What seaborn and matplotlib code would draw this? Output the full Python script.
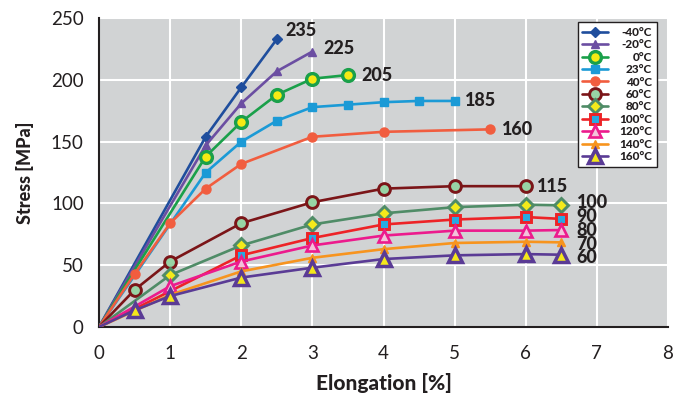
import numpy as np
import pandas as pd
import matplotlib
matplotlib.use("Agg")
import matplotlib.pyplot as plt
import seaborn as sns

# ---- data ----
temps = ["-40°C", "-20°C", "0°C", "23°C", "40°C", "60°C", "80°C", "100°C", "120°C", "140°C", "160°C"]
x_m40 = [0, 1.5, 2.0, 2.5]
y_m40 = [0, 154, 194, 233]
x_m20 = [0, 1.5, 2.0, 2.5, 3.0]
y_m20 = [0, 147, 181, 207, 223]
x_0 = [0, 1.5, 2.0, 2.5, 3.0, 3.5]
y_0 = [0, 138, 166, 188, 201, 204]
x_23 = [0, 1.5, 2.0, 2.5, 3.0, 3.5, 4.0, 4.5, 5.0]
y_23 = [0, 125, 150, 167, 178, 180, 182, 183, 183]
x_40 = [0, 0.5, 1.0, 1.5, 2.0, 3.0, 4.0, 5.5]
y_40 = [0, 43, 84, 112, 132, 154, 158, 160]
x_60 = [0, 0.5, 1.0, 2.0, 3.0, 4.0, 5.0, 6.0]
y_60 = [0, 30, 53, 84, 101, 112, 114, 114]
x_80 = [0, 1.0, 2.0, 3.0, 4.0, 5.0, 6.0, 6.5]
y_80 = [0, 42, 66, 83, 92, 97, 99, 98.5]
x_100 = [0, 2.0, 3.0, 4.0, 5.0, 6.0, 6.5]
y_100 = [0, 58, 72, 83, 87, 89, 87.5]
x_120 = [0, 1.0, 2.0, 3.0, 4.0, 5.0, 6.0, 6.5]
y_120 = [0, 33, 53, 66, 74, 78, 78, 78.5]
x_140 = [0, 1.0, 2.0, 3.0, 4.0, 5.0, 6.0, 6.5]
y_140 = [0, 26, 45, 56, 63, 68, 69, 68.5]
x_160 = [0, 0.5, 1.0, 2.0, 3.0, 4.0, 5.0, 6.0, 6.5]
y_160 = [0, 13.5, 25, 40, 48, 55, 58, 59, 58.5]
end_labels = ["235", "225", "205", "185", "160", "115", "100", "90", "80", "70", "60"]
x_ticks = [0, 1, 2, 3, 4, 5, 6, 7, 8]
y_ticks = [0, 50, 100, 150, 200, 250]

xs = [x_m40, x_m20, x_0, x_23, x_40, x_60, x_80, x_100, x_120, x_140, x_160]
ys = [y_m40, y_m20, y_0, y_23, y_40, y_60, y_80, y_100, y_120, y_140, y_160]

# ---- styles ----
styles = [
    dict(color="#1f4e9d", marker="D", ms=5, mfc="#1f4e9d", mec="#1f4e9d", mew=1),
    dict(color="#6b4ea2", marker="^", ms=6, mfc="#6b4ea2", mec="#6b4ea2", mew=1),
    dict(color="#1aa04a", marker="o", ms=8.5, mfc="#f5ea14", mec="#1aa04a", mew=2.4),
    dict(color="#1b9ad6", marker="s", ms=6, mfc="#1b9ad6", mec="#1b9ad6", mew=1),
    dict(color="#f15d3f", marker="o", ms=6.5, mfc="#f15d3f", mec="#f15d3f", mew=1),
    dict(color="#7b1518", marker="o", ms=8.5, mfc="#98d4a5", mec="#7b1518", mew=2.1),
    dict(color="#4f8c67", marker="D", ms=7, mfc="#f4ea1b", mec="#4f8c67", mew=2.1),
    dict(color="#ed2327", marker="s", ms=7.5, mfc="#27aae1", mec="#ed2327", mew=2.1),
    dict(color="#ec1b8d", marker="^", ms=8.5, mfc="#f3c2da", mec="#ec1b8d", mew=1.9),
    dict(color="#f7941e", marker="^", ms=6, mfc="#f7941e", mec="#f7941e", mew=1),
    dict(color="#5a3b95", marker="^", ms=9.5, mfc="#f4e71b", mec="#5a3b95", mew=2.5),
]
label_offsets = [(9, 9), (11, 3), (13, 0), (10, 0), (12, 0), (11, 0),
                 (16, 3), (15, 2), (15, 0), (15, -2), (15, -3)]

sns.set_style("white")
plt.rcParams["font.family"] = ["Lato", "DejaVu Sans"]

fig = plt.figure(figsize=(6.73, 3.99), dpi=100)
ax = fig.add_axes([0.1471, 0.1805, 0.8455, 0.7739])
ax.set_facecolor("#d1d3d4")

for name, x, y, st in zip(temps, xs, ys, styles):
    df = pd.DataFrame({"x": x, "y": y})
    sns.lineplot(data=df, x="x", y="y", ax=ax, sort=False, estimator=None,
                 color=st["color"], lw=1.9, marker=st["marker"], markersize=st["ms"],
                 markerfacecolor=st["mfc"], markeredgecolor=st["mec"],
                 markeredgewidth=st["mew"], markevery=list(range(1, len(x))),
                 label=name, zorder=3)

for x, y, lab, off in zip(xs, ys, end_labels, label_offsets):
    ax.annotate(lab, xy=(x[-1], y[-1]), xytext=off, textcoords="offset pixels",
                ha="left", va="center", fontsize=13, fontweight="black",
                color="#231f20", zorder=5)

ax.set_xlim(0, 8)
ax.set_ylim(0, 250)
ax.set_xticks(x_ticks)
ax.set_yticks(y_ticks)
ax.grid(True, color="white", lw=1.5, zorder=0)
ax.set_axisbelow(True)
for s in ["top", "right"]:
    ax.spines[s].set_visible(False)
for s in ["left", "bottom"]:
    ax.spines[s].set_color("#231f20")
    ax.spines[s].set_linewidth(1.5)
ax.tick_params(axis="both", length=0, labelsize=13.5, colors="#231f20")
ax.tick_params(axis="x", pad=13)
ax.tick_params(axis="y", pad=11)
ax.set_xlabel("Elongation [%]", fontsize=15, fontweight="black", color="#231f20", labelpad=8)
ax.set_ylabel("Stress [MPa]", fontsize=13, fontweight="black", color="#231f20", labelpad=12)

leg = ax.legend(loc="upper right", bbox_to_anchor=(0.98, 0.987), fontsize=8.5,
                frameon=True, fancybox=False, edgecolor="#231f20", facecolor="white",
                framealpha=1, handlelength=2.2, handletextpad=0.9, labelspacing=0.12,
                borderpad=0.4, borderaxespad=0)
leg.get_frame().set_linewidth(1.0)
for t in leg.get_texts():
    t.set_fontweight("black")
    t.set_color("#231f20")

fig.canvas.draw()
renderer = fig.canvas.get_renderer()
widths = [t.get_window_extent(renderer).width for t in leg.get_texts()]
maxw = max(widths)
for t, w in zip(leg.get_texts(), widths):
    t.set_position((maxw - w, 0))

fig.savefig("out.png", dpi=100, facecolor="white")
